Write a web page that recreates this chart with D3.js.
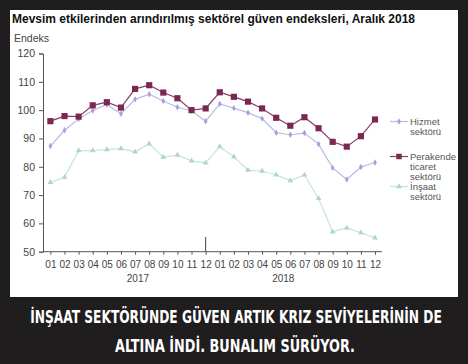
<!DOCTYPE html>
<html><head><meta charset="utf-8">
<script src="https://cdn.jsdelivr.net/npm/d3@7"></script>
<style>
html,body{margin:0;padding:0;background:#1f1d1e;}
svg{display:block;}
</style></head>
<body>
<svg id="c" width="468" height="364"></svg>
<script>
const monthLabels = ["01","02","03","04","05","06","07","08","09","10","11","12",
                     "01","02","03","04","05","06","07","08","09","10","11","12"];
const yearLabels = [{year:"2017", at:6.2},{year:"2018", at:16.5}];
const yTicks = [50,60,70,80,90,100,110,120];

const hizmet = [87.3,92.9,96.9,99.9,102.0,98.7,103.8,105.6,103.2,101.0,99.8,96.1,
                102.2,100.7,99.1,97.0,92.0,91.3,91.9,88.0,79.6,75.5,79.9,81.5];
const perakende = [96.1,97.9,97.7,101.7,102.8,100.9,107.5,108.8,106.2,104.2,100.0,100.6,
                   106.3,104.7,103.0,100.6,97.3,94.5,97.5,93.6,88.8,87.1,90.8,96.7];
const insaat = [74.5,76.3,85.7,85.7,86.1,86.4,85.3,88.1,83.4,84.1,82.1,81.4,
                87.1,83.5,78.8,78.5,77.1,75.1,77.1,68.8,57.0,58.4,56.7,54.9];

const seriesNames = [["Hizmet","sektörü"],["Perakende","ticaret","sektörü"],["İnşaat","sektörü"]];

const svg = d3.select("#c");
svg.append("rect").attr("x",10).attr("y",10).attr("width",448).attr("height",287).attr("fill","#ffffff");

svg.append("text").attr("x",12).attr("y",23)
  .attr("font-family","Liberation Sans, Arial, sans-serif").attr("font-weight","bold")
  .attr("font-size",13).attr("fill","#111")
  .attr("textLength",403).attr("lengthAdjust","spacingAndGlyphs")
  .text("Mevsim etkilerinden arındırılmış sektörel güven endeksleri, Aralık 2018");

svg.append("text").attr("x",14).attr("y",42)
  .attr("font-family","Liberation Sans, Arial, sans-serif").attr("font-size",10.5).attr("fill","#444")
  .text("Endeks");

const idx = d3.range(24);
const x = d3.scalePoint().domain(idx).range([50.4, 375]);
const y = d3.scaleLinear().domain([50,120]).range([251.7, 53.5]);

const font = "Liberation Sans, Arial, sans-serif";
const yAxis = svg.append("g").attr("transform","translate(43,0)")
  .call(d3.axisLeft(y).tickValues(yTicks).tickSize(4).tickPadding(4));
yAxis.select(".domain").attr("stroke","#555");
yAxis.selectAll(".tick line").attr("stroke","#555");
yAxis.selectAll("text").attr("font-family",font).attr("font-size",10.5).attr("fill","#444");

const xAxis = svg.append("g").attr("transform","translate(0,251.7)")
  .call(d3.axisBottom(x).tickSize(3).tickPadding(6).tickFormat(i=>monthLabels[i]));
xAxis.select(".domain").attr("d","M43,0H382").attr("stroke","#555");
xAxis.selectAll(".tick line").attr("stroke","#555");
xAxis.selectAll("text").attr("font-family",font).attr("font-size",10).attr("fill","#444");
svg.append("line").attr("x1",x(11)).attr("x2",x(11)).attr("y1",237).attr("y2",251.7)
  .attr("stroke","#444").attr("stroke-width",1);
svg.selectAll(".year").data(yearLabels).enter().append("text")
  .attr("x",d=>x(0)+(x(1)-x(0))*d.at).attr("y",282)
  .attr("text-anchor","middle").attr("font-family",font).attr("font-size",10).attr("fill","#444")
  .text(d=>d.year);

const line = d3.line().x((d,i)=>x(i)).y(d=>y(d));

function drawSeries(data, lineColor, markColor, shape, size){
  svg.append("path").datum(data).attr("d",line).attr("fill","none")
    .attr("stroke",lineColor).attr("stroke-width",1.2);
  svg.selectAll(null).data(data).enter().append("path")
    .attr("transform",(d,i)=>`translate(${x(i)},${y(d)})`)
    .attr("d",d3.symbol().type(shape).size(size))
    .attr("fill",markColor);
}
drawSeries(insaat,"#c4e4e0","#a9d6d0",d3.symbolTriangle,14);
drawSeries(hizmet,"#bdb8e4","#a6a0da",d3.symbolDiamond,12);
drawSeries(perakende,"#8b3d64","#7a2752",d3.symbolSquare,38);

const legend = [
  {lines:seriesNames[0], y:125, lc:"#bdb8e4", mc:"#a6a0da", shape:d3.symbolDiamond, size:12},
  {lines:seriesNames[1], y:160, lc:"#8b3d64", mc:"#7a2752", shape:d3.symbolSquare, size:30},
  {lines:seriesNames[2], y:190, lc:"#c4e4e0", mc:"#a9d6d0", shape:d3.symbolTriangle, size:14}
];
legend.forEach(l=>{
  const ly = l.y - 3.5;
  svg.append("line").attr("x1",390).attr("x2",408).attr("y1",ly).attr("y2",ly)
    .attr("stroke",l.lc).attr("stroke-width",1.2);
  svg.append("path").attr("transform",`translate(399,${ly})`)
    .attr("d",d3.symbol().type(l.shape).size(l.size)).attr("fill",l.mc);
  l.lines.forEach((t,k)=>{
    svg.append("text").attr("x",410).attr("y",l.y + k*9.8)
      .attr("font-family",font).attr("font-size",9.5).attr("fill","#555").text(t);
  });
});

// caption, scaled horizontally to the reference width
const capFont = "'Liberation Sans Narrow','DejaVu Sans Condensed','Roboto Condensed',sans-serif";
function caption(txt, cx, by, w){
  const g = svg.append("g");
  const t = g.append("text").attr("x",0).attr("y",0).attr("text-anchor","middle")
    .attr("font-family",capFont).attr("font-weight","bold").attr("font-size",17).attr("fill","#ffffff")
    .text(txt);
  const nat = t.node().getComputedTextLength();
  g.attr("transform",`translate(${cx},${by}) scale(${w/nat},1)`);
}
caption("İNŞAAT SEKTÖRÜNDE GÜVEN ARTIK KRIZ SEVİYELERİNİN DE", 236, 323, 412);
caption("ALTINA İNDİ. BUNALIM SÜRÜYOR.", 235, 351.5, 240);
</script>
</body></html>
